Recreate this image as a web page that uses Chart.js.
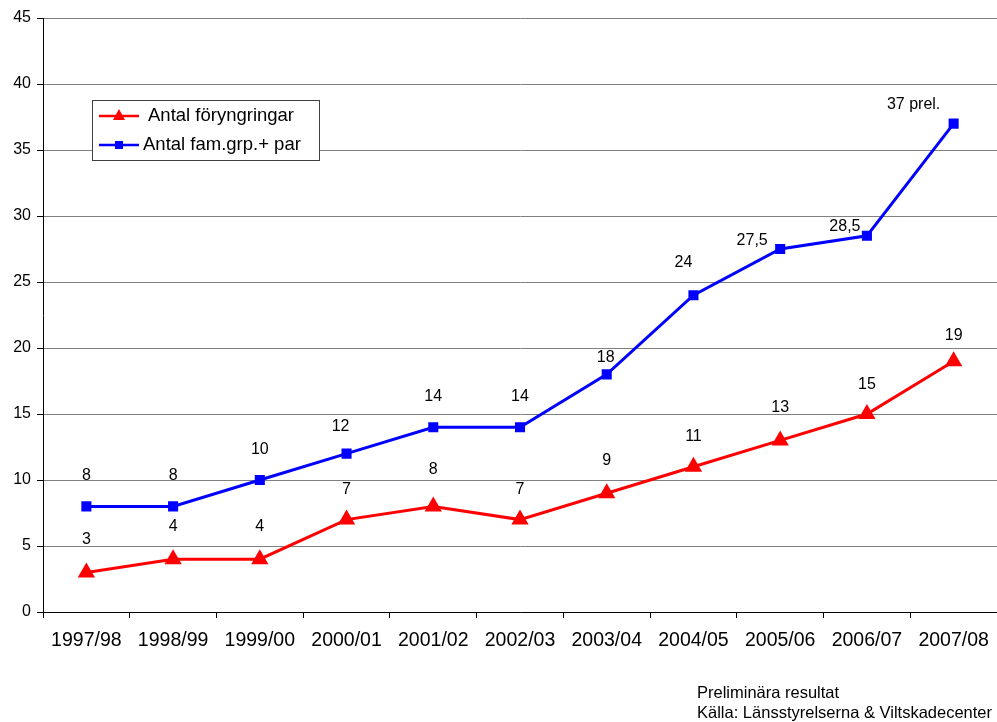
<!DOCTYPE html>
<html>
<head>
<meta charset="utf-8">
<script src="https://cdn.jsdelivr.net/npm/chart.js@4"></script>
<style>
  html,body{margin:0;padding:0;background:#fff;}
  #wrap{position:relative;width:997px;height:722px;overflow:hidden;}
  #note{position:absolute;left:697px;top:682px;font:16.5px "Liberation Sans",Arial,sans-serif;color:#000;line-height:20px;white-space:nowrap;}
</style>
</head>
<body>
<div id="wrap">
  <canvas id="chart" width="997" height="722"></canvas>
  <div id="note">Preliminära resultat<br>Källa: Länsstyrelserna &amp; Viltskadecenter</div>
</div>
<script>
// Data
const seasons = ["1997/98","1998/99","1999/00","2000/01","2001/02","2002/03","2003/04","2004/05","2005/06","2006/07","2007/08"];
const reproductions = [3,4,4,7,8,7,9,11,13,15,19];
const familyGroups = [8,8,10,12,14,14,18,24,27.5,28.5,37];
const reproLabels = ["3","4","4","7","8","7","9","11","13","15","19"];
const familyLabels = ["8","8","10","12","14","14","18","24","27,5","28,5","37 prel."];

const FONT = '"Liberation Sans", Arial, sans-serif';

// Point labels plugin
const pointLabels = {
    id: "pointLabels",
    afterDatasetsDraw(chart, args, opts) {
        const ctx = chart.ctx;
        ctx.save();
        ctx.font = "16px " + FONT;
        ctx.fillStyle = "#000";
        ctx.textAlign = "center";
        ctx.textBaseline = "middle";
        chart.data.datasets.forEach((ds, i) => {
            const meta = chart.getDatasetMeta(i);
            const labels = opts.labels[i], dx = opts.dx[i], dy = opts.dy[i];
            meta.data.forEach((pt, j) => {
                ctx.fillText(labels[j], pt.x + dx[j], pt.y - dy[j]);
            });
        });
        ctx.restore();
    }
};

// Legend box plugin
const boxLegend = {
    id: "boxLegend",
    afterDraw(chart, args, opts) {
        const ctx = chart.ctx;
        ctx.save();
        ctx.fillStyle = "#fff";
        ctx.fillRect(opts.x, opts.y, opts.w, opts.h);
        ctx.strokeStyle = "#404040";
        ctx.lineWidth = 1;
        ctx.strokeRect(opts.x + 0.5, opts.y + 0.5, opts.w, opts.h);
        ctx.font = "18.5px " + FONT;
        ctx.textBaseline = "middle";
        chart.data.datasets.forEach((ds, i) => {
            const cy = opts.y + 16 + i * 29;
            const x0 = opts.x + 7;
            ctx.strokeStyle = ds.borderColor;
            ctx.lineWidth = 2.5;
            ctx.beginPath(); ctx.moveTo(x0, cy); ctx.lineTo(x0 + 40, cy); ctx.stroke();
            ctx.fillStyle = ds.borderColor;
            const mx = x0 + 20;
            if (ds.pointStyle === "triangle") {
                ctx.beginPath(); ctx.moveTo(mx, cy - 7); ctx.lineTo(mx + 6, cy + 4); ctx.lineTo(mx - 6, cy + 4); ctx.closePath(); ctx.fill();
            } else {
                ctx.fillRect(mx - 4, cy - 4, 8, 8);
            }
            ctx.fillStyle = "#000";
            ctx.fillText(ds.label, x0 + (i === 0 ? 49 : 44), cy);
        });
        ctx.restore();
    }
};

new Chart(document.getElementById("chart"), {
    type: "line",
    data: {
        labels: seasons,
        datasets: [
            {label: "Antal föryngringar", data: reproductions, borderColor: "#ff0000", backgroundColor: "#ff0000",
             borderWidth: 3, pointStyle: "triangle", pointRadius: 7, pointHoverRadius: 7, tension: 0},
            {label: "Antal fam.grp.+ par", data: familyGroups, borderColor: "#0000ff", backgroundColor: "#0000ff",
             borderWidth: 3, pointStyle: "rect", pointRadius: 5, pointHoverRadius: 5, tension: 0}
        ]
    },
    options: {
        responsive: false,
        animation: false,
        layout: {autoPadding: false, padding: {top: 18, right: 0, left: 0, bottom: 0}},
        plugins: {
            legend: {display: false},
            tooltip: {enabled: false},
            pointLabels: {
                labels: [reproLabels, familyLabels],
                dx: [[0,0,0,0,0,0,0,0,0,0,0],[0,0,0,-6,0,0,-1,-10,-28,-22,-40]],
                dy: [[33,33,33,30,37,30,33,30,33,29,26],[31,31,30,27,31,31,17,33,8,9,19]]
            },
            boxLegend: {x: 92, y: 100, w: 227, h: 60}
        },
        scales: {
            x: {
                offset: true,
                grid: {display: true, drawOnChartArea: false, drawTicks: true, tickLength: 6, color: "#000", offset: true},
                border: {color: "#000", width: 1},
                ticks: {color: "#000", font: {family: FONT, size: 19.5}, padding: 11, maxRotation: 0, autoSkip: false},
                afterFit(scale) { scale.height = 110; scale.paddingLeft = 0; scale.paddingRight = 0; }
            },
            y: {
                min: 0, max: 45,
                ticks: {stepSize: 5, color: "#000", font: {family: FONT, size: 16}, padding: 6},
                grid: {color: "#808080", lineWidth: 1, tickLength: 6, tickColor: "#000"},
                border: {color: "#000", width: 1},
                afterFit(scale) { scale.width = 43; scale.paddingTop = 0; scale.paddingBottom = 0; }
            }
        }
    },
    plugins: [pointLabels, boxLegend]
});
</script>
</body>
</html>
